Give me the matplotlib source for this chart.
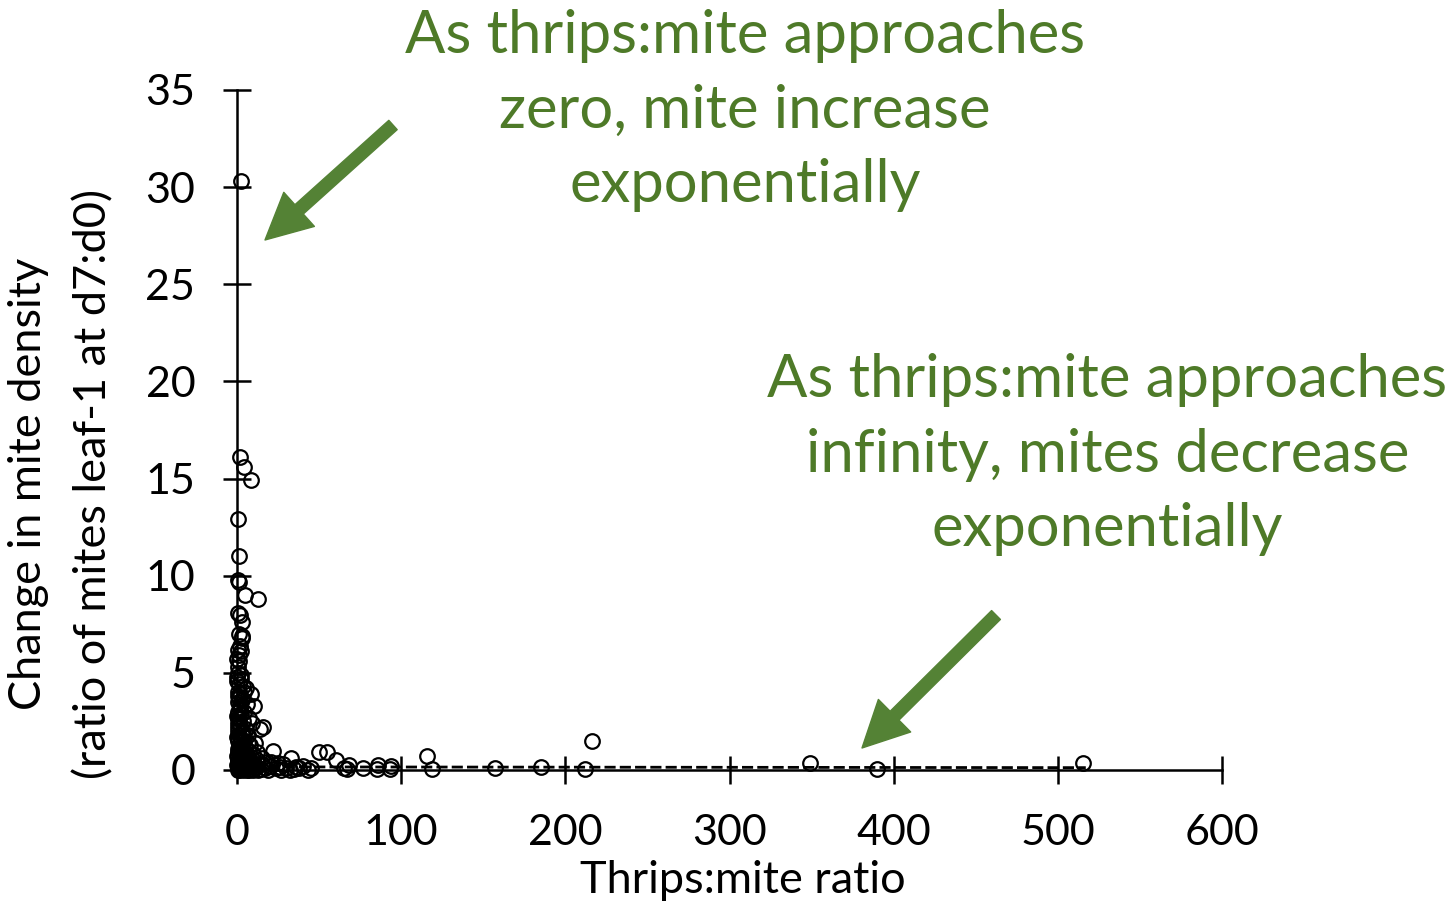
import matplotlib
matplotlib.use('Agg')
import matplotlib.pyplot as plt

plt.rcParams['font.family'] = ['Lato', 'DejaVu Sans']

# thrips:mite ratio (x) and change in mite density d7:d0 (y)
ratio = [2.4, 2.0, 4.5, 8.5, 0.8, 1.2, 0.3, 1.5, 5.0, 13.0,
         0.4, 1.8, 3.0, 1.0, 2.8, 3.2, 2.0, 0.5, 2.5, 0.2,
         1.5, 0.7, 0.9, 2.2, 0.1, 1.3, 3.5, 5.5, 4.0, 0.6,
         2.0, 8.5, 1.0, 3.0, 0.3, 6.0, 10.5, 1.8, 0.5, 4.5,
         2.5, 0.2, 7.0, 1.2, 3.8, 9.0, 0.4, 2.0, 16.0, 14.0,
         5.5, 0.8, 3.2, 1.5, 6.5, 0.1, 2.6, 4.2, 0.6, 11.0,
         8.0, 1.0, 2.2, 5.0, 0.3, 22.0, 3.5, 7.5, 1.4, 12.0,
         0.5, 50.0, 55.0, 2.8, 4.8, 9.5, 0.2, 1.8, 116.0, 6.0,
         15.0, 33.0, 3.0, 0.7, 60.0, 10.0, 2.0, 5.5, 18.0, 0.4,
         25.0, 349.0, 515.0, 1.2, 8.0, 13.0, 28.0, 3.8, 68.0, 86.0,
         0.1, 20.0, 94.0, 2.5, 6.8, 40.0, 36.0, 185.0, 11.5, 1.6,
         30.0, 157.0, 77.0, 17.0, 45.0, 4.5, 0.6, 24.0, 65.0, 9.0,
         212.0, 119.0, 390.0, 35.0, 14.5, 2.0, 0.3, 27.0, 5.8, 19.0,
         43.0, 7.5, 1.0, 12.5, 32.0, 3.5, 216.0, 67.0, 85.0, 93.0,
         0.9, 1.7, 2.7, 3.6, 4.9, 6.2, 7.8, 10.0, 0.2, 1.1,
         2.3, 3.3, 0.5, 1.4, 2.1, 0.8, 1.9, 4.1, 0.4, 1.3,
         5.2, 7.2, 9.8, 12.2, 3.9, 6.6, 15.5, 21.0, 26.0, 38.0]
change = [30.3, 16.1, 15.6, 14.9, 12.9, 11.0, 9.8, 9.7, 9.0, 8.8,
          8.1, 8.0, 7.6, 7.0, 6.9, 6.8, 6.4, 6.2, 6.1, 5.7,
          5.6, 5.3, 5.0, 4.9, 4.6, 4.4, 4.3, 4.2, 4.0, 4.0,
          3.9, 3.9, 3.7, 3.6, 3.5, 3.4, 3.3, 3.2, 3.0, 3.0,
          2.9, 2.8, 2.7, 2.6, 2.5, 2.4, 2.4, 2.3, 2.2, 2.1,
          2.1, 2.0, 1.9, 1.8, 1.8, 1.7, 1.6, 1.5, 1.5, 1.4,
          1.3, 1.3, 1.2, 1.2, 1.1, 1.0, 1.0, 1.0, 0.9, 0.9,
          0.9, 0.9, 0.9, 0.8, 0.8, 0.8, 0.7, 0.7, 0.7, 0.7,
          0.6, 0.6, 0.6, 0.5, 0.5, 0.5, 0.5, 0.4, 0.4, 0.4,
          0.35, 0.35, 0.35, 0.3, 0.3, 0.3, 0.3, 0.3, 0.25, 0.25,
          0.25, 0.2, 0.2, 0.2, 0.2, 0.2, 0.15, 0.15, 0.15, 0.15,
          0.1, 0.1, 0.1, 0.1, 0.1, 0.1, 0.1, 0.08, 0.08, 0.05,
          0.05, 0.05, 0.05, 0.05, 0.05, 0.05, 0.02, 0.02, 0.02, 0.0,
          0.0, 0.0, 0.0, 0.0, 0.0, 0.0, 1.5, 0.05, 0.05, 0.05,
          2.7, 3.4, 1.1, 0.6, 0.3, 0.1, 0.5, 0.0, 4.8, 5.9,
          4.7, 2.0, 1.6, 2.4, 3.1, 3.8, 1.0, 1.7, 2.2, 0.3,
          0.6, 0.4, 0.2, 0.5, 1.9, 1.4, 0.3, 0.4, 0.15, 0.1]

# fitted trend (dashed)
trend_x = [0.5, 517.0]
trend_y = [0.16, 0.12]

green = '#548235'
text_green = '#4E7A28'

fig = plt.figure(figsize=(14.55, 9.05), dpi=100)
ax = fig.add_axes([0.1629, 0.1492, 0.677, 0.7514])

ax.plot(trend_x, trend_y, color='black', linestyle=(0, (4, 1.5)), linewidth=2.0,
        clip_on=False, zorder=2)
ax.plot(ratio, change, linestyle='none', marker='o', markersize=10.5,
        markerfacecolor='none', markeredgecolor='black', markeredgewidth=1.6,
        clip_on=False, zorder=3)

ax.set_xlim(0, 600)
ax.set_ylim(0, 35)
ax.set_xticks(range(0, 601, 100))
ax.set_yticks(range(0, 36, 5))
for s in ['top', 'right']:
    ax.spines[s].set_visible(False)
for s in ['left', 'bottom']:
    ax.spines[s].set_linewidth(1.8)
ax.tick_params(axis='both', direction='inout', length=20, width=1.8, labelsize=31)
ax.tick_params(axis='y', pad=20)
ax.tick_params(axis='x', pad=22)

ax.set_xlabel('Thrips:mite ratio', fontsize=32.5)
ax.xaxis.set_label_coords(0.513, -0.133)
ax.set_ylabel('Change in mite density\n(ratio of mites leaf-1 at d7:d0)', fontsize=32.5,
              linespacing=1.75)
ax.yaxis.set_label_coords(-0.124, 0.42)

ax.text(0.512, 0.99, 'As thrips:mite approaches\nzero, mite increase\nexponentially',
        transform=fig.transFigure, ha='center', va='top', fontsize=43, color=text_green,
        linespacing=1.47)
ax.text(0.761, 0.61, 'As thrips:mite approaches\ninfinity, mites decrease\nexponentially',
        transform=fig.transFigure, ha='center', va='top', fontsize=43, color=text_green,
        linespacing=1.47)

arrow = dict(arrowstyle='simple,head_length=1.1,head_width=1.1,tail_width=0.3',
             color=green, mutation_scale=30, shrinkA=0, shrinkB=0)
ax.annotate('', xy=(265 / 1455, 1 - 240 / 905), xytext=(393 / 1455, 1 - 125 / 905),
            xycoords='figure fraction', textcoords='figure fraction', arrowprops=arrow)
ax.annotate('', xy=(862 / 1455, 1 - 748 / 905), xytext=(996 / 1455, 1 - 615 / 905),
            xycoords='figure fraction', textcoords='figure fraction', arrowprops=arrow)

fig.savefig('out.png', dpi=100)
